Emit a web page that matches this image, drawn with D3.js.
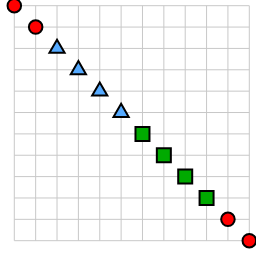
<!DOCTYPE html>
<html><head><meta charset="utf-8">
<script src="https://cdn.jsdelivr.net/npm/d3@7"></script>
<style>html,body{margin:0;padding:0;background:#fff;overflow:hidden}svg{display:block}</style>
</head><body>
<script>
const xValues = [0,1,2,3,4,5,6,7,8,9,10,11];
const yValues = [0,1,2,3,4,5,6,7,8,9,10,11];
const shapes = ["circle","circle","triangle","triangle","triangle","triangle","square","square","square","square","circle","circle"];
const gridTicks = [0,1,2,3,4,5,6,7,8,9,10,11];

const shapeInfo = {
  circle:   {symbol: d3.symbolCircle,   size: 144, fill: "#ff0000"},
  triangle: {symbol: d3.symbolTriangle, size: 100, fill: "#55aaff"},
  square:   {symbol: d3.symbolSquare,   size: 196, fill: "#00aa00"}
};

const W = 256, H = 255;
const svg = d3.select("body").append("svg").attr("width", W).attr("height", H);
const x = d3.scaleLinear().domain([0, 11]).range([14.3, 249.3]);
const y = d3.scaleLinear().domain([0, 11]).range([5.7, 240.7]);

const g = svg.append("g");
g.selectAll("line.v").data(gridTicks).join("line").attr("class","v")
  .attr("x1", d => x(d)).attr("x2", d => x(d))
  .attr("y1", y(0)).attr("y2", y(11))
  .attr("stroke", "#c8c8c8").attr("stroke-width", 1);
g.selectAll("line.h").data(gridTicks).join("line").attr("class","h")
  .attr("y1", d => y(d)).attr("y2", d => y(d))
  .attr("x1", x(0)).attr("x2", x(11))
  .attr("stroke", "#c8c8c8").attr("stroke-width", 1);

const pts = xValues.map((v, i) => ({x: v, y: yValues[i], shape: shapes[i]}));
svg.append("g").selectAll("path").data(pts).join("path")
  .attr("transform", d => `translate(${x(d.x)},${y(d.y)})`)
  .attr("d", d => d3.symbol().type(shapeInfo[d.shape].symbol).size(shapeInfo[d.shape].size)())
  .attr("fill", d => shapeInfo[d.shape].fill)
  .attr("stroke", "#000").attr("stroke-width", 2);
</script>
</body></html>
